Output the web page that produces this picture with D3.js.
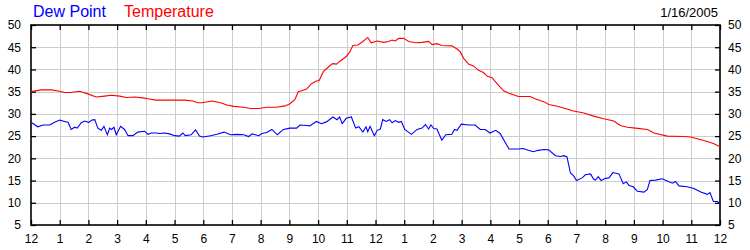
<!DOCTYPE html>
<html><head><meta charset="utf-8">
<script src="https://cdn.jsdelivr.net/npm/d3@7"></script>
<style>body{margin:0;background:#fff}svg{display:block}text{font-family:Arial,"Liberation Sans",sans-serif}</style>
</head><body><svg id="c" width="750" height="250"></svg>
<script>
const hourLabels = ["12","1","2","3","4","5","6","7","8","9","10","11","12","1","2","3","4","5","6","7","8","9","10","11","12"];
const yTicks = [5,10,15,20,25,30,35,40,45,50];
const dateLabel = "1/16/2005";
const seriesNames = ["Dew Point","Temperature"];

const tempHours = [0,0.36,0.71,1.00,1.17,1.40,1.69,1.98,2.27,2.56,2.80,3.09,3.32,3.61,3.90,4.07,4.36,5.35,5.64,5.81,
 5.95,6.31,6.60,6.83,7.06,7.41,7.64,7.93,8.21,8.56,8.85,9.02,9.19,9.31,9.43,9.60,9.77,9.94,10.04,10.18,10.35,10.50,10.64,10.75,10.98,11.10,11.21,11.39,11.56,11.73,11.85,
 12.06,12.29,12.46,12.58,12.69,12.81,12.98,13.16,13.39,13.62,13.85,13.97,14.14,14.31,14.66,14.84,14.95,15.07,15.24,15.41,15.59,15.76,15.91,16.05,16.22,16.46,16.63,16.80,16.98,17.38,17.56,17.73,17.88,
 18.03,18.33,18.67,18.85,19.26,19.60,19.95,20.30,20.53,20.77,21.06,21.47,21.70,22.16,22.74,22.98,23.21,23.56,23.79,24.00];
const tempValues = [35.0,35.4,35.4,35.1,34.8,34.8,35.1,34.5,33.8,34.0,34.2,34.0,33.7,33.8,33.6,33.4,33.1,33.1,32.9,32.5,
 32.5,32.9,32.5,32.0,31.7,31.5,31.2,31.2,31.5,31.5,31.8,32.3,33.2,35.0,35.2,35.6,36.8,37.4,37.5,39.5,40.5,41.3,41.2,41.8,42.9,43.9,45.4,45.5,46.3,47.2,46.0,
 46.4,46.1,46.3,46.6,46.4,47.0,47.0,46.3,46.0,46.1,46.3,45.6,45.8,45.4,45.3,44.6,44.0,42.5,41.2,40.8,39.8,39.3,38.4,38.2,36.9,35.2,34.7,34.3,33.9,33.9,33.4,33.0,32.7,
 32.1,31.7,31.1,30.7,30.2,29.5,28.9,28.4,27.4,27.0,26.8,26.5,25.7,25.0,24.9,24.8,24.4,23.8,23.3,22.6];

const dewHours = [0,0.24,0.42,0.65,0.82,1.00,1.17,1.29,1.40,1.52,1.61,1.75,1.87,2.01,2.12,2.22,2.33,2.45,2.54,2.66,2.74,2.80,2.89,2.97,3.12,3.26,3.38,3.55,3.72,3.96,4.07,4.19,4.36,4.48,4.65,4.83,5.00,5.17,5.29,5.37,5.58,5.73,5.87,5.99,
 6.25,6.48,6.72,6.95,7.18,7.41,7.58,7.70,7.81,7.93,8.04,8.21,8.39,8.58,8.79,9.02,9.25,9.37,9.60,9.71,9.94,10.12,10.29,10.52,10.66,10.75,10.84,10.98,11.16,11.31,11.42,11.56,11.67,11.73,11.81,11.96,
 12.06,12.17,12.25,12.37,12.49,12.58,12.69,12.81,12.90,13.02,13.25,13.45,13.62,13.74,13.85,13.93,14.03,14.14,14.31,14.45,14.66,14.75,14.84,14.99,15.24,15.47,15.65,15.82,15.99,16.19,16.34,16.65,16.98,17.15,17.32,17.50,17.67,17.86,
 18.03,18.27,18.44,18.56,18.67,18.79,18.91,19.00,19.20,19.31,19.49,19.60,19.66,19.76,19.86,20.01,20.13,20.27,20.48,20.63,20.74,20.83,20.98,21.12,21.35,21.47,21.56,21.76,21.99,22.16,22.34,22.45,22.57,22.86,23.09,23.33,23.56,23.65,23.77,23.91,24.00];
const dewValues = [28.1,27.1,27.5,27.5,28.1,28.6,28.3,28.1,26.5,27.0,26.8,28.0,28.4,28.1,28.6,28.7,26.8,26.3,27.2,25.3,26.8,26.5,27.0,25.3,27.2,26.5,25.1,25.1,25.9,26.1,25.4,25.7,25.7,25.6,25.7,25.5,25.1,25.0,25.7,25.1,25.3,26.4,25.0,24.8,
 25.1,25.4,25.9,25.3,25.4,25.3,24.9,25.5,25.3,25.1,25.6,25.8,26.5,25.3,26.5,26.8,26.8,27.5,27.4,27.3,28.3,27.8,28.2,29.3,28.7,29.3,27.8,29.0,29.3,26.8,27.1,25.9,27.1,26.0,27.2,25.1,
 26.3,26.6,28.7,28.3,28.7,28.0,28.5,28.1,28.3,26.5,25.4,26.5,26.8,27.6,26.6,27.5,26.7,26.6,24.1,25.3,25.4,26.5,26.3,27.7,27.5,27.5,26.5,26.5,25.7,26.3,25.6,22.1,22.1,22.2,21.8,21.5,21.8,22.0,
 21.9,20.6,20.4,20.6,20.3,16.7,16.0,15.0,15.6,16.3,16.5,15.3,15.1,15.9,15.0,15.5,15.6,16.8,16.5,14.3,14.7,13.9,13.6,12.6,12.4,13.0,15.0,15.1,15.4,14.9,14.4,14.8,13.8,13.6,13.2,12.4,11.9,12.3,10.3,10.3,9.7];

const W = 750, H = 250;
const m = {left:31, right:720, top:25, bottom:225};
const svg = d3.select("#c");
svg.append("rect").attr("width",W).attr("height",H).attr("fill","#fff");

const x = d3.scaleLinear().domain([0,24]).range([m.left,m.right]);
const y = d3.scaleLinear().domain([5,50]).range([m.bottom,m.top]);
const hours = d3.range(0,25);

// grid
const g = svg.append("g").attr("stroke","#cccccc").attr("stroke-width",1).attr("shape-rendering","crispEdges");
g.selectAll("line.v").data(hours.slice(1,-1)).join("line")
  .attr("x1",d=>Math.round(x(d))+0.5).attr("x2",d=>Math.round(x(d))+0.5).attr("y1",m.top).attr("y2",m.bottom);
g.selectAll("line.h").data(yTicks.slice(1,-1)).join("line")
  .attr("y1",d=>Math.round(y(d))+0.5).attr("y2",d=>Math.round(y(d))+0.5).attr("x1",m.left).attr("x2",m.right);

// axes
const axB = d3.axisBottom(x).tickValues(hours).tickSize(-5).tickPadding(9).tickFormat((d,i)=>hourLabels[i]);
const axT = d3.axisTop(x).tickValues(hours).tickSize(-5).tickFormat("");
const axL = d3.axisLeft(y).tickValues(yTicks).tickSize(-5).tickPadding(10);
const axR = d3.axisRight(y).tickValues(yTicks).tickSize(-5).tickPadding(8);
function style(sel){
  sel.select(".domain").remove();
  sel.selectAll("line").attr("stroke","#000").attr("stroke-width",1.3);
  sel.selectAll("text").attr("fill","#000").attr("font-size","12px").attr("font-family","Arial, 'Liberation Sans', sans-serif");
}
svg.append("g").attr("transform",`translate(0,${m.bottom})`).call(axB).call(style);
svg.append("g").attr("transform",`translate(0,${m.top})`).call(axT).call(style);
svg.append("g").attr("transform",`translate(${m.left},0)`).call(axL).call(style);
svg.append("g").attr("transform",`translate(${m.right},0)`).call(axR).call(style);

// frame
svg.append("rect").attr("x",m.left).attr("y",m.top).attr("width",m.right-m.left).attr("height",m.bottom-m.top)
  .attr("fill","none").attr("stroke","#000").attr("stroke-width",1.6);

// lines
const line = d3.line().x(d=>x(d[0])).y(d=>y(d[1]));
svg.append("path").datum(tempHours.map((h,i)=>[h,tempValues[i]]))
  .attr("d",line).attr("fill","none").attr("stroke","#ff0000").attr("stroke-width",1.1);
svg.append("path").datum(dewHours.map((h,i)=>[h,dewValues[i]]))
  .attr("d",line).attr("fill","none").attr("stroke","#0000ff").attr("stroke-width",1.1);

// legend & date
svg.append("text").attr("x",33).attr("y",17).attr("fill","#0000ff").attr("font-size","16px").text(seriesNames[0]);
svg.append("text").attr("x",124).attr("y",17).attr("fill","#ff0000").attr("font-size","16px").text(seriesNames[1]);
svg.append("text").attr("x",718).attr("y",17).attr("text-anchor","end").attr("fill","#000").attr("font-size","13px").text(dateLabel);
</script></body></html>
